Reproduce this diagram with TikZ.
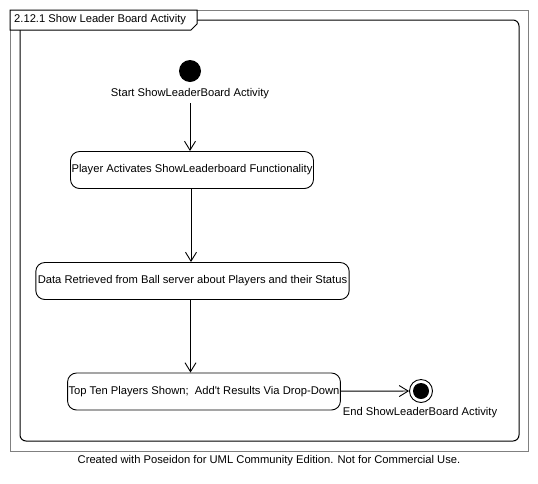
\documentclass[tikz,border=0pt]{standalone}
\usepackage{fontspec}
\setmainfont{Liberation Sans}
\usetikzlibrary{arrows.meta, shapes.geometric}

\begin{document}
\begin{tikzpicture}[x=1pt, y=-1pt,
        action/.style={draw, rounded corners=9pt, minimum height=37pt, inner sep=1pt, line width=0.9pt},
        lbl/.style={inner sep=0pt},
        flow/.style={-{Straight Barb[length=9pt, width=11pt]}, line width=0.9pt}]
        \useasboundingbox (0,0) rectangle (538,483);
        \fontsize{11.2}{13}\selectfont
        % outer frame and activity frame
        \draw [gray, line width=1pt] (10,10) rectangle (528,451);
        \draw [line width=1pt, rounded corners=6pt] (20,20) rectangle (519,441);
        \draw [fill=white, line width=1pt] (10,10) -- (197,10) -- (197,24) -- (191,30) -- (10,30) -- cycle;
        \node[lbl, anchor=west] at (14,20) (title) {2.12.1 Show Leader Board Activity};

        \node[circle, fill, minimum size=22pt, inner sep=0pt] at (190, 71)   (start) {};
        \node[lbl] at (190, 94)   (startlbl) {Start ShowLeaderBoard Activity};
        \node[action, minimum width=242pt] at (192, 170)   (A1) {Player Activates ShowLeaderboard Functionality};
        \node[action, minimum width=307pt, inner xsep=2pt] at (192.5, 281)   (A2) {Data Retrieved from Ball server about Players and their Status};
        \node[action, minimum width=268pt] at (204, 391.5)   (A3) {Top Ten Players Shown;\ \ Add\textquotesingle t Results Via Drop-Down};
        \node[circle, draw, line width=0.9pt, minimum size=23pt, inner sep=0pt] at (421, 391)   (end) {};
        \fill (end.center) circle (8pt);
        \node[lbl] at (420, 413)   (endlbl) {End ShowLeaderBoard Activity};

        \draw [flow] ([yshift=-4pt]startlbl.south) -- (startlbl.south |- A1.north);
        \draw [flow] ([xshift=-1pt]A1.south) -- ([xshift=-1pt]A1.south |- A2.north);
        \draw [flow] ([xshift=-2pt]A2.south) -- ([xshift=-2pt]A2.south |- A3.north);
        \draw [flow] (A3) -- (end);

        \node[lbl] at (269, 461) (credit) {Created with Poseidon for UML Community Edition. Not for Commercial Use.};
    \end{tikzpicture}
\end{document}
